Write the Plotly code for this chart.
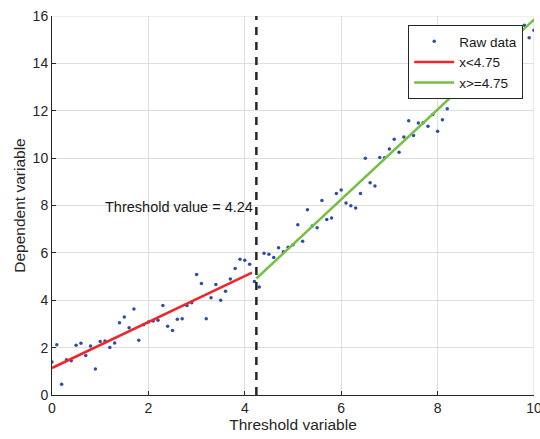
import numpy as np
import plotly.graph_objects as go

# ---- data ----
x_raw = [round(0.1 * i, 1) for i in range(101)]
y_raw = [1.39, 2.12, 0.45, 1.49, 1.45, 2.10, 2.18, 1.67, 2.07, 1.10,
         2.26, 2.28, 2.01, 2.19, 3.05, 3.29, 2.84, 3.63, 2.31, 2.97,
         3.08, 3.12, 3.16, 3.78, 2.90, 2.72, 3.20, 3.22, 3.78, 3.89,
         5.09, 4.71, 3.22, 4.11, 4.67, 4.00, 4.38, 4.90, 5.34, 5.73,
         5.69, 5.52, 4.79, 4.56, 5.98, 5.94, 5.80, 6.22, 6.05, 6.24,
         6.34, 7.19, 6.49, 7.82, 7.13, 7.06, 8.21, 7.41, 7.47, 8.51,
         8.65, 8.11, 7.99, 7.89, 8.51, 10.00, 8.96, 8.82, 10.03, 10.02,
         10.38, 10.80, 10.25, 10.89, 11.58, 10.96, 11.48, 11.49, 11.35, 11.84,
         11.13, 11.62, 12.08, 13.30, 13.60, 13.25, 13.07, 13.60, 13.90, 13.50,
         14.20, 14.00, 14.60, 14.40, 14.90, 14.60, 15.20, 14.90, 15.61, 15.08,
         15.40]

threshold = 4.24
# fitted regimes: intercept, slope, x-range
low_coef = (1.14, 0.97)
low_range = (0.0, 4.15)
high_coef = (-3.13, 1.898)
high_range = (4.24, 10.0)

x_ticks = [0, 2, 4, 6, 8, 10]
y_ticks = [0, 2, 4, 6, 8, 10, 12, 14, 16]
x_range = [0, 10]
y_range = [0, 16]

lx = np.array(low_range)
hx = np.array(high_range)
ly = low_coef[0] + low_coef[1] * lx
hy = high_coef[0] + high_coef[1] * hx

fig = go.Figure()
fig.add_trace(go.Scatter(x=x_raw, y=y_raw, mode="markers", name="Raw data",
                         marker=dict(color="#2e4ea3", size=3.5)))
fig.add_trace(go.Scatter(x=lx, y=ly, mode="lines", name="x<4.75",
                         line=dict(color="#f0262a", width=2.5)))
fig.add_trace(go.Scatter(x=hx, y=hy, mode="lines", name="x>=4.75",
                         line=dict(color="#74c044", width=2.5)))
fig.add_trace(go.Scatter(x=[threshold, threshold], y=y_range, mode="lines",
                         showlegend=False,
                         line=dict(color="#262626", width=2.5, dash="8px,7px")))

fig.add_annotation(x=threshold - 0.03, y=7.95, text="Threshold value = 4.24",
                   showarrow=False, xanchor="right", yanchor="middle",
                   font=dict(size=14.5, color="#1a1a1a"))

# light top/right box edges (gridlines at the limits)
fig.add_shape(type="line", xref="x", yref="y", x0=x_range[0], x1=x_range[1],
              y0=y_range[1], y1=y_range[1], line=dict(color="#dedede", width=1.2),
              layer="below")
fig.add_shape(type="line", xref="x", yref="y", x0=x_range[1], x1=x_range[1],
              y0=y_range[0], y1=y_range[1], line=dict(color="#dedede", width=1.2),
              layer="below")

axis_common = dict(showgrid=True, gridcolor="#dedede", gridwidth=1.2,
                   zeroline=False, showline=True, linecolor="#262626",
                   linewidth=1, ticks="inside", ticklen=4, tickcolor="#262626",
                   tickfont=dict(size=14, color="#262626"),
                   ticklabeloverflow="allow", automargin=False)

fig.update_xaxes(range=x_range, tickvals=x_ticks,
                 title=dict(text="Threshold variable", font=dict(size=15.5, color="#262626"),
                            standoff=1),
                 **axis_common)
fig.update_yaxes(range=y_range, tickvals=y_ticks,
                 title=dict(text="Dependent variable", font=dict(size=15.5, color="#262626"),
                            standoff=3),
                 **axis_common)

fig.update_layout(
    width=540, height=439,
    margin=dict(l=52, r=6, t=16, b=44),
    paper_bgcolor="white", plot_bgcolor="white",
    font=dict(family="Liberation Sans, Arial, sans-serif", color="#262626"),
    legend=dict(x=0.739, y=0.976, xanchor="left", yanchor="top",
                bgcolor="white", bordercolor="#262626", borderwidth=1,
                font=dict(size=13.5, color="#1a1a1a"), tracegroupgap=0,
                itemwidth=40),
    showlegend=True,
)

fig.write_html("out.html")
